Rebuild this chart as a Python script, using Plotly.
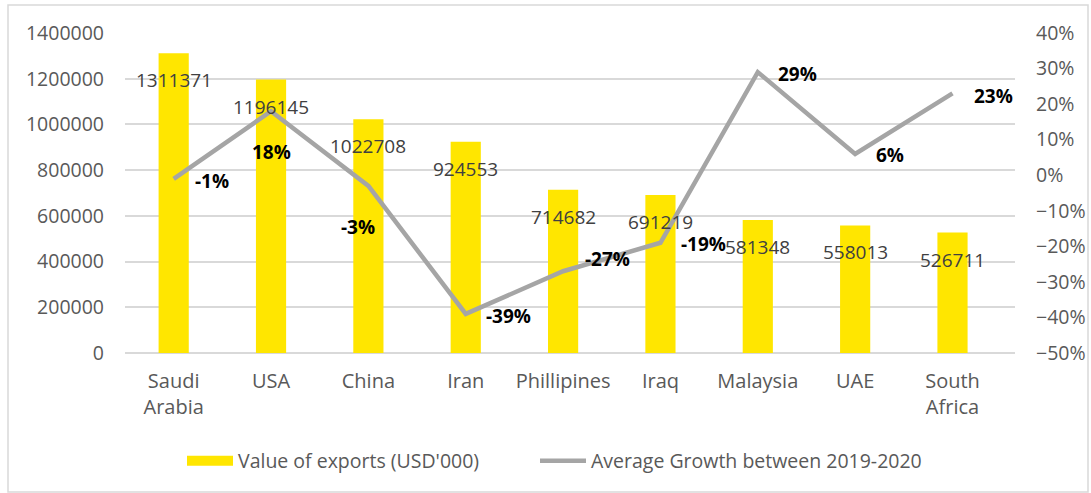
import plotly.graph_objects as go

categories = ["Saudi<br>Arabia", "USA", "China", "Iran", "Phillipines", "Iraq", "Malaysia", "UAE", "South<br>Africa"]
export_values = [1311371, 1196145, 1022708, 924553, 714682, 691219, 581348, 558013, 526711]
growth = [-0.01, 0.18, -0.03, -0.39, -0.27, -0.19, 0.29, 0.06, 0.23]
growth_labels = ["-1%", "18%", "-3%", "-39%", "-27%", "-19%", "29%", "6%", "23%"]

# label pixel offsets for growth labels (style only)
g_xshift = [38, 0, -10, 43, 44, 43, 40, 35, 41]
g_yshift = [-2, -41, -41, -2, 12, -1, -2, -1, -3]

FONT = "Open Sans"
FS = 19
fig = go.Figure()
fig.add_trace(go.Bar(
    x=categories, y=export_values, name="Value of exports (USD'000)",
    marker=dict(color="#FFE600", line=dict(width=0)), width=0.31, yaxis="y", showlegend=False,
))
# legend proxy for the bars (wide swatch like the original)
fig.add_trace(go.Scatter(
    x=[None], y=[None], name="Value of exports (USD'000)", mode="lines",
    line=dict(color="#FFE600", width=13), yaxis="y", legend="legend",
))
fig.add_trace(go.Scatter(
    x=categories, y=growth, name="Average Growth between 2019-2020",
    mode="lines", line=dict(color="#A5A5A5", width=4.5), yaxis="y2", legend="legend2",
))

annotations = []
for c, v in zip(categories, export_values):
    annotations.append(dict(x=c, y=v, xref="x", yref="y", text=str(v), showarrow=False,
                            yshift=-27, font=dict(family=FONT, size=FS, color="#404040")))
for c, g, t, xs, ys in zip(categories, growth, growth_labels, g_xshift, g_yshift):
    annotations.append(dict(x=c, y=g, xref="x", yref="y2", text="<b>%s</b>" % t, showarrow=False,
                            xshift=xs, yshift=ys, font=dict(family=FONT, size=FS, color="#000000")))

L, R, T, B = 125, 76, 33, 140
W, H = 1091, 493
pw, ph = W - L - R, H - T - B

def px_x(p):
    return (p - L) / pw

def px_y(p):
    return (H - B - p) / ph

legend_common = dict(orientation="h", xanchor="left", y=px_y(461), yanchor="middle",
                     font=dict(size=FS + 0.5, color="#595959"), itemwidth=46, bgcolor="rgba(0,0,0,0)")

fig.update_layout(
    width=W, height=H,
    margin=dict(l=L, r=R, t=T, b=B, autoexpand=False),
    paper_bgcolor="white", plot_bgcolor="white",
    font=dict(family=FONT, size=FS, color="#595959"),
    bargap=0.69,
    xaxis=dict(showgrid=False, showline=False, ticks="", ticklabelstandoff=14, automargin=False,
               tickfont=dict(size=FS + 1, color="#595959")),
    yaxis=dict(range=[0, 1400000], dtick=200000, showgrid=True, gridcolor="#D9D9D9", gridwidth=1.5,
               zeroline=True, zerolinecolor="#D9D9D9", zerolinewidth=1.5, tickformat="d",
               ticks="", ticklabelstandoff=20, automargin=False,
               tickfont=dict(size=FS + 0.5, color="#595959")),
    yaxis2=dict(range=[-0.5, 0.4], dtick=0.1, tickformat=".0%", overlaying="y", side="right",
                showgrid=False, zeroline=False, ticks="", ticklabelstandoff=20, automargin=False,
                tickfont=dict(size=FS + 0.5, color="#595959")),
    legend=dict(x=px_x(182), **legend_common),
    legend2=dict(x=px_x(535), **legend_common),
    annotations=annotations,
    shapes=[dict(type="rect", xref="paper", yref="paper",
                 x0=px_x(8), x1=px_x(1088), y0=px_y(492), y1=px_y(5),
                 line=dict(color="#D9D9D9", width=1.5), fillcolor="rgba(0,0,0,0)", layer="below")],
)

fig.write_html("out.html")
